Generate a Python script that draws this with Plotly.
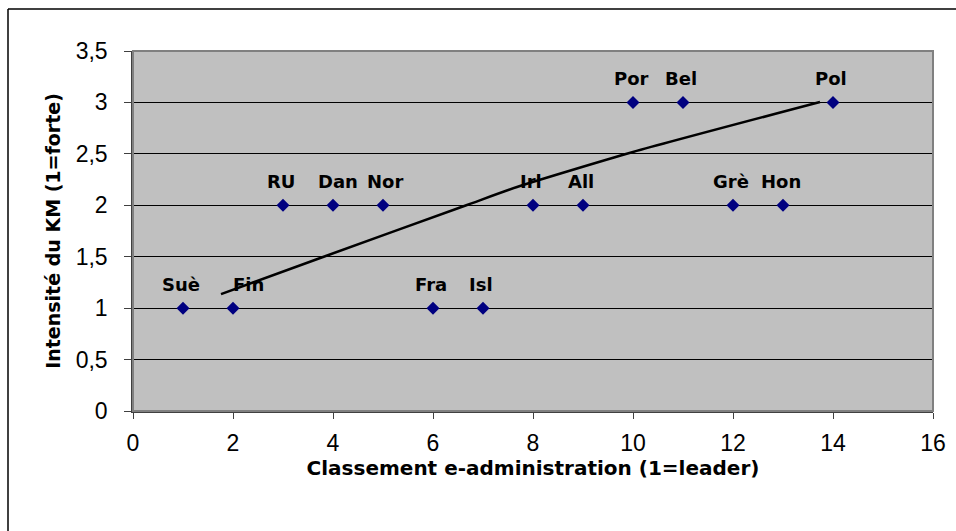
import plotly.graph_objects as go

# Pays : rang e-administration et intensité du KM
pays = ["Suè", "Fin", "RU", "Dan", "Nor", "Fra", "Isl", "Irl", "All",
        "Por", "Bel", "Grè", "Hon", "Pol"]
classement = [1, 2, 3, 4, 5, 6, 7, 8, 9, 10, 11, 12, 13, 14]
intensite = [1, 1, 2, 2, 2, 1, 1, 2, 2, 3, 3, 2, 2, 3]

# Courbe de tendance
tendance_x = [1.76, 3.8, 6.68, 7.68, 10.0, 13.74]
tendance_y = [1.137, 1.497, 2.003, 2.178, 2.518, 3.004]

# Décalage horizontal propre à certaines étiquettes
decalage_etiquette = {"Fin": 15, "Dan": 5, "Nor": 2}

fig = go.Figure()

fig.add_trace(go.Scatter(
    x=tendance_x, y=tendance_y, mode="lines",
    line=dict(color="black", width=2.5, shape="spline", smoothing=0.6),
    hoverinfo="skip", showlegend=False,
))

fig.add_trace(go.Scatter(
    x=classement, y=intensite, mode="markers",
    marker=dict(symbol="diamond", size=10, color="#000080",
                line=dict(width=0)),
    showlegend=False,
))

for nom, xv, yv in zip(pays, classement, intensite):
    fig.add_annotation(
        x=xv, y=yv, text=f"<b>{nom}</b>", showarrow=False,
        yanchor="bottom", xanchor="center", yshift=11,
        xshift=decalage_etiquette.get(nom, -2),
        font=dict(family="DejaVu Sans", size=18, color="black"),
    )

# Bordure grise de la zone de tracé
fig.add_shape(type="rect", xref="paper", yref="paper",
              x0=0, x1=1, y0=0, y1=1,
              line=dict(color="#808080", width=2), layer="above")

# Cadre extérieur du graphique
fig.add_shape(type="line", xref="paper", yref="paper",
              x0=-0.15625, x1=1.2, y0=1.1167, y1=1.1167,
              line=dict(color="black", width=1.5), layer="above")
fig.add_shape(type="line", xref="paper", yref="paper",
              x0=-0.15625, x1=-0.15625, y0=-0.5, y1=1.1167,
              line=dict(color="black", width=1.5), layer="above")

fig.update_layout(
    width=956, height=531,
    margin=dict(l=133, r=23, t=51, b=120, autoexpand=False),
    paper_bgcolor="white", plot_bgcolor="#C0C0C0",
    font=dict(family="Liberation Sans", color="black"),
    xaxis=dict(
        range=[0, 16], tickvals=list(range(0, 17, 2)),
        showgrid=False, zeroline=False, automargin=False,
        showline=True, linecolor="#404040", linewidth=1.5,
        ticks="outside", ticklen=6, tickcolor="#404040",
        tickfont=dict(size=23), ticklabelstandoff=5,
        title=dict(text="<b>Classement e-administration (1=leader)</b>",
                   font=dict(family="DejaVu Sans", size=20), standoff=4),
    ),
    yaxis=dict(
        range=[0, 3.5], tickvals=[0, 0.5, 1, 1.5, 2, 2.5, 3, 3.5],
        ticktext=["0", "0,5", "1", "1,5", "2", "2,5", "3", "3,5"],
        showgrid=True, gridcolor="black", gridwidth=1,
        zeroline=False, automargin=False,
        showline=True, linecolor="#404040", linewidth=1.5,
        ticks="outside", ticklen=7, tickcolor="#404040",
        tickfont=dict(size=23), ticklabelstandoff=12,
        title=dict(text="<b>Intensité du KM (1=forte)</b>",
                   font=dict(family="DejaVu Sans", size=19), standoff=10),
    ),
)

fig.write_html("out.html")
